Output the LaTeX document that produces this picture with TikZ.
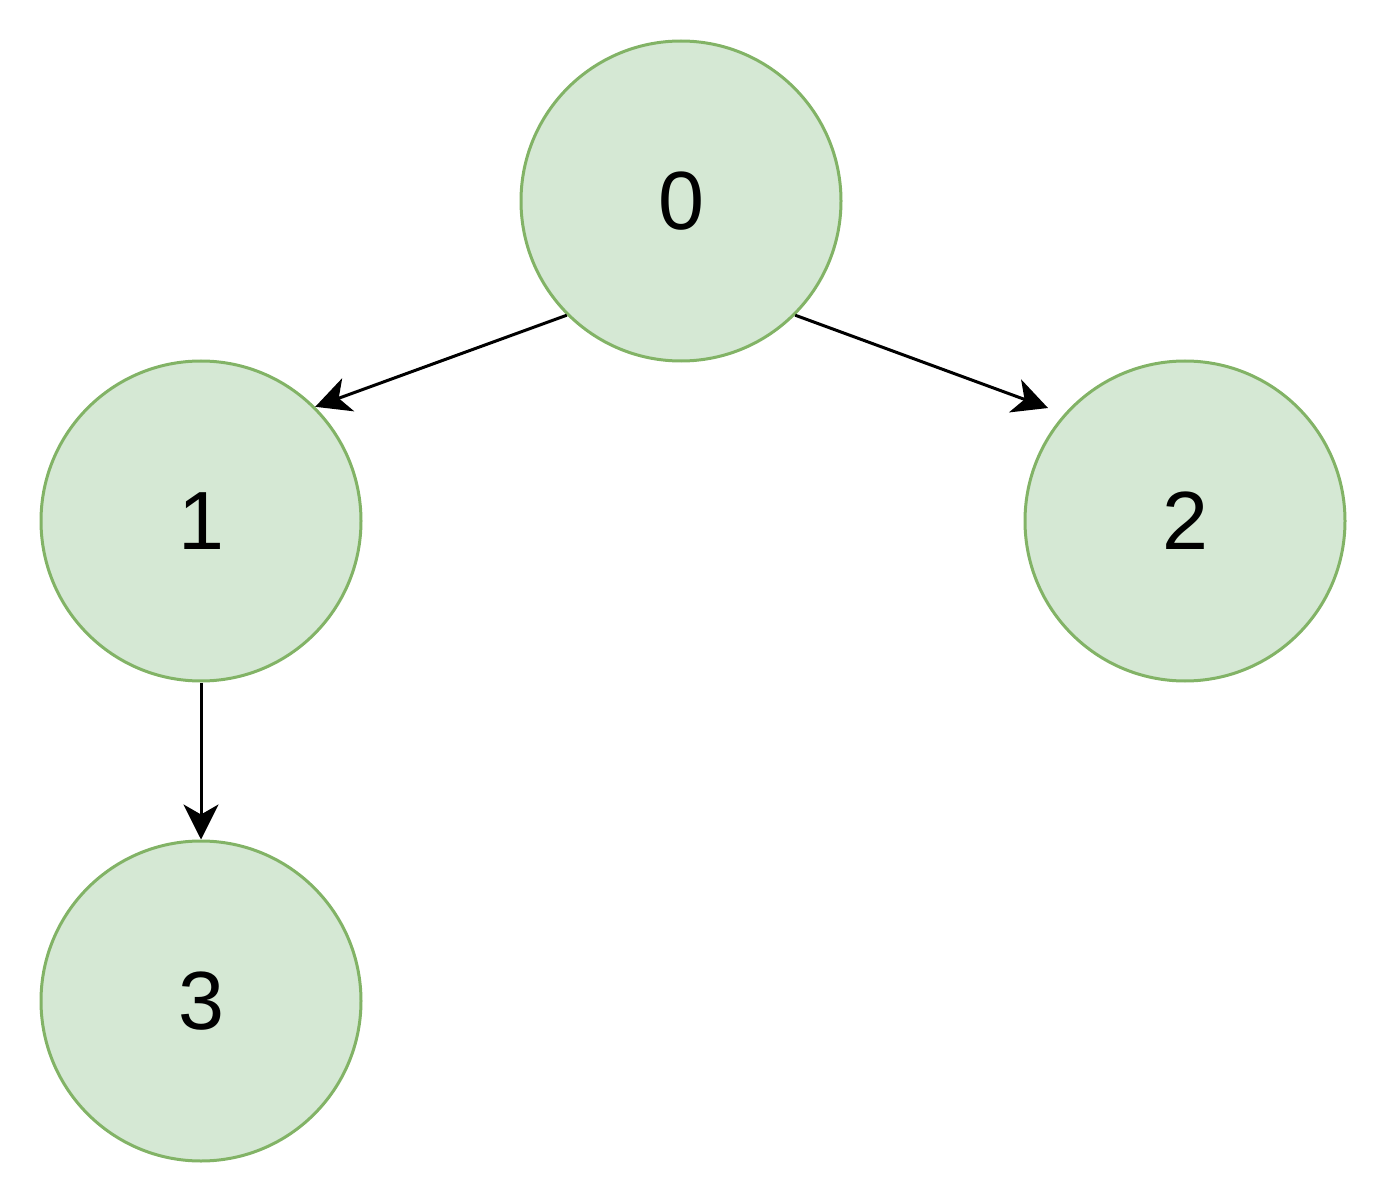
\documentclass[tikz,border=0pt]{standalone}
\usepackage{fontspec}
\setmainfont{Liberation Sans}
\usepackage{xcolor}
\usetikzlibrary{arrows.meta}
\definecolor{nodefill}{HTML}{D5E8D4}
\definecolor{nodeline}{HTML}{82B366}
\tikzset{
    vertex/.style={draw=nodeline, fill=nodefill, circle, line width=0.06cm,
        minimum size=6.4cm, inner sep=0pt, font=\fontsize{47}{56}\selectfont},
    edge/.style={line width=0.06cm, -{Stealth[length=0.7cm, width=0.7cm, inset=0.2cm]}}
}
\begin{document}
\begin{tikzpicture}
        \useasboundingbox (0, 0) rectangle (27.76, -24.08);
        \node[vertex] at (13.62, -4.02) (v0) {0};
        \node[vertex] at (4.02, -10.42) (v1) {1};
        \node[vertex] at (23.70, -10.42) (v2) {2};
        \node[vertex] at (4.02, -20.02) (v3) {3};
        \coordinate (e2) at (20.96, -8.16);

        \draw[edge] (v0.225) -- (v1.45);
        \draw[edge] (v0.-45) -- (e2);
        \draw[edge] (v1.south) -- (v3.north);
    \end{tikzpicture}
\end{document}
